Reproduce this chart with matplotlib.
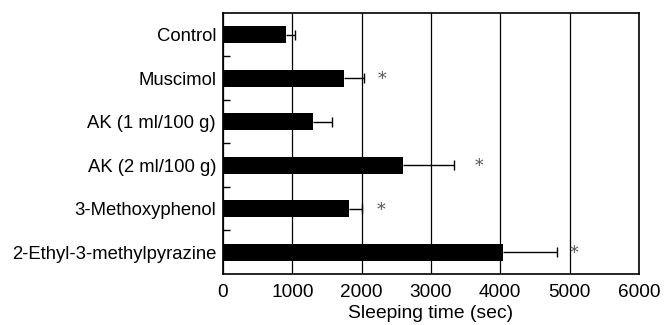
import numpy as np
import matplotlib.pyplot as plt

plt.rcParams['font.family'] = ['Liberation Sans', 'DejaVu Sans']

groups = ["Control", "Muscimol", "AK (1 ml/100 g)", "AK (2 ml/100 g)",
          "3-Methoxyphenol", "2-Ethyl-3-methylpyrazine"]
sleepTime = [910, 1750, 1300, 2590, 1820, 4040]
sleepErr = [130, 290, 270, 740, 190, 775]
# where the significance stars sit (x value), None = no star
starX = [None, 2290, None, 3700, 2280, 5060]

fig = plt.figure(figsize=(6.64, 3.25), dpi=100)
ax = fig.add_axes([0.3358, 0.157, 0.6265, 0.803])

yPos = np.arange(len(groups))
ax.barh(yPos, sleepTime, height=0.4, color="black", zorder=3)

# one-sided error bars: line from bar end, cap only at the outer end
errEnd = np.array(sleepTime) + np.array(sleepErr)
ax.hlines(yPos, sleepTime, errEnd, color="black", linewidth=1, zorder=2)
ax.plot(errEnd, yPos, linestyle="none", marker="|", markersize=7,
        markeredgewidth=1, color="black", zorder=2)

for i in range(len(groups)):
    if starX[i] is not None:
        ax.text(starX[i], yPos[i] + 0.03, "*", color="#555555",
                fontsize=12.5, family="DejaVu Serif", ha="center", va="center")

ax.set_ylim(len(groups) - 0.5, -0.5)
ax.set_yticks(yPos)
ax.set_yticklabels(groups, fontsize=13.3)
ax.tick_params(axis="y", length=0, pad=5)
ax.set_yticks(np.arange(0.5, len(groups) - 0.5, 1), minor=True)
ax.tick_params(axis="y", which="minor", direction="in", length=5, width=1)

ax.set_xlim(0, 6000)
ax.set_xticks(np.arange(0, 6001, 1000))
ax.tick_params(axis="x", labelsize=13.7, length=0, pad=7)
ax.xaxis.grid(True, color="black", linewidth=0.9, zorder=1)
ax.set_axisbelow(True)
ax.set_xlabel("Sleeping time (sec)", fontsize=13.9, labelpad=3)

for s in ax.spines.values():
    s.set_linewidth(1.2)

fig.savefig("out.png", dpi=100)
